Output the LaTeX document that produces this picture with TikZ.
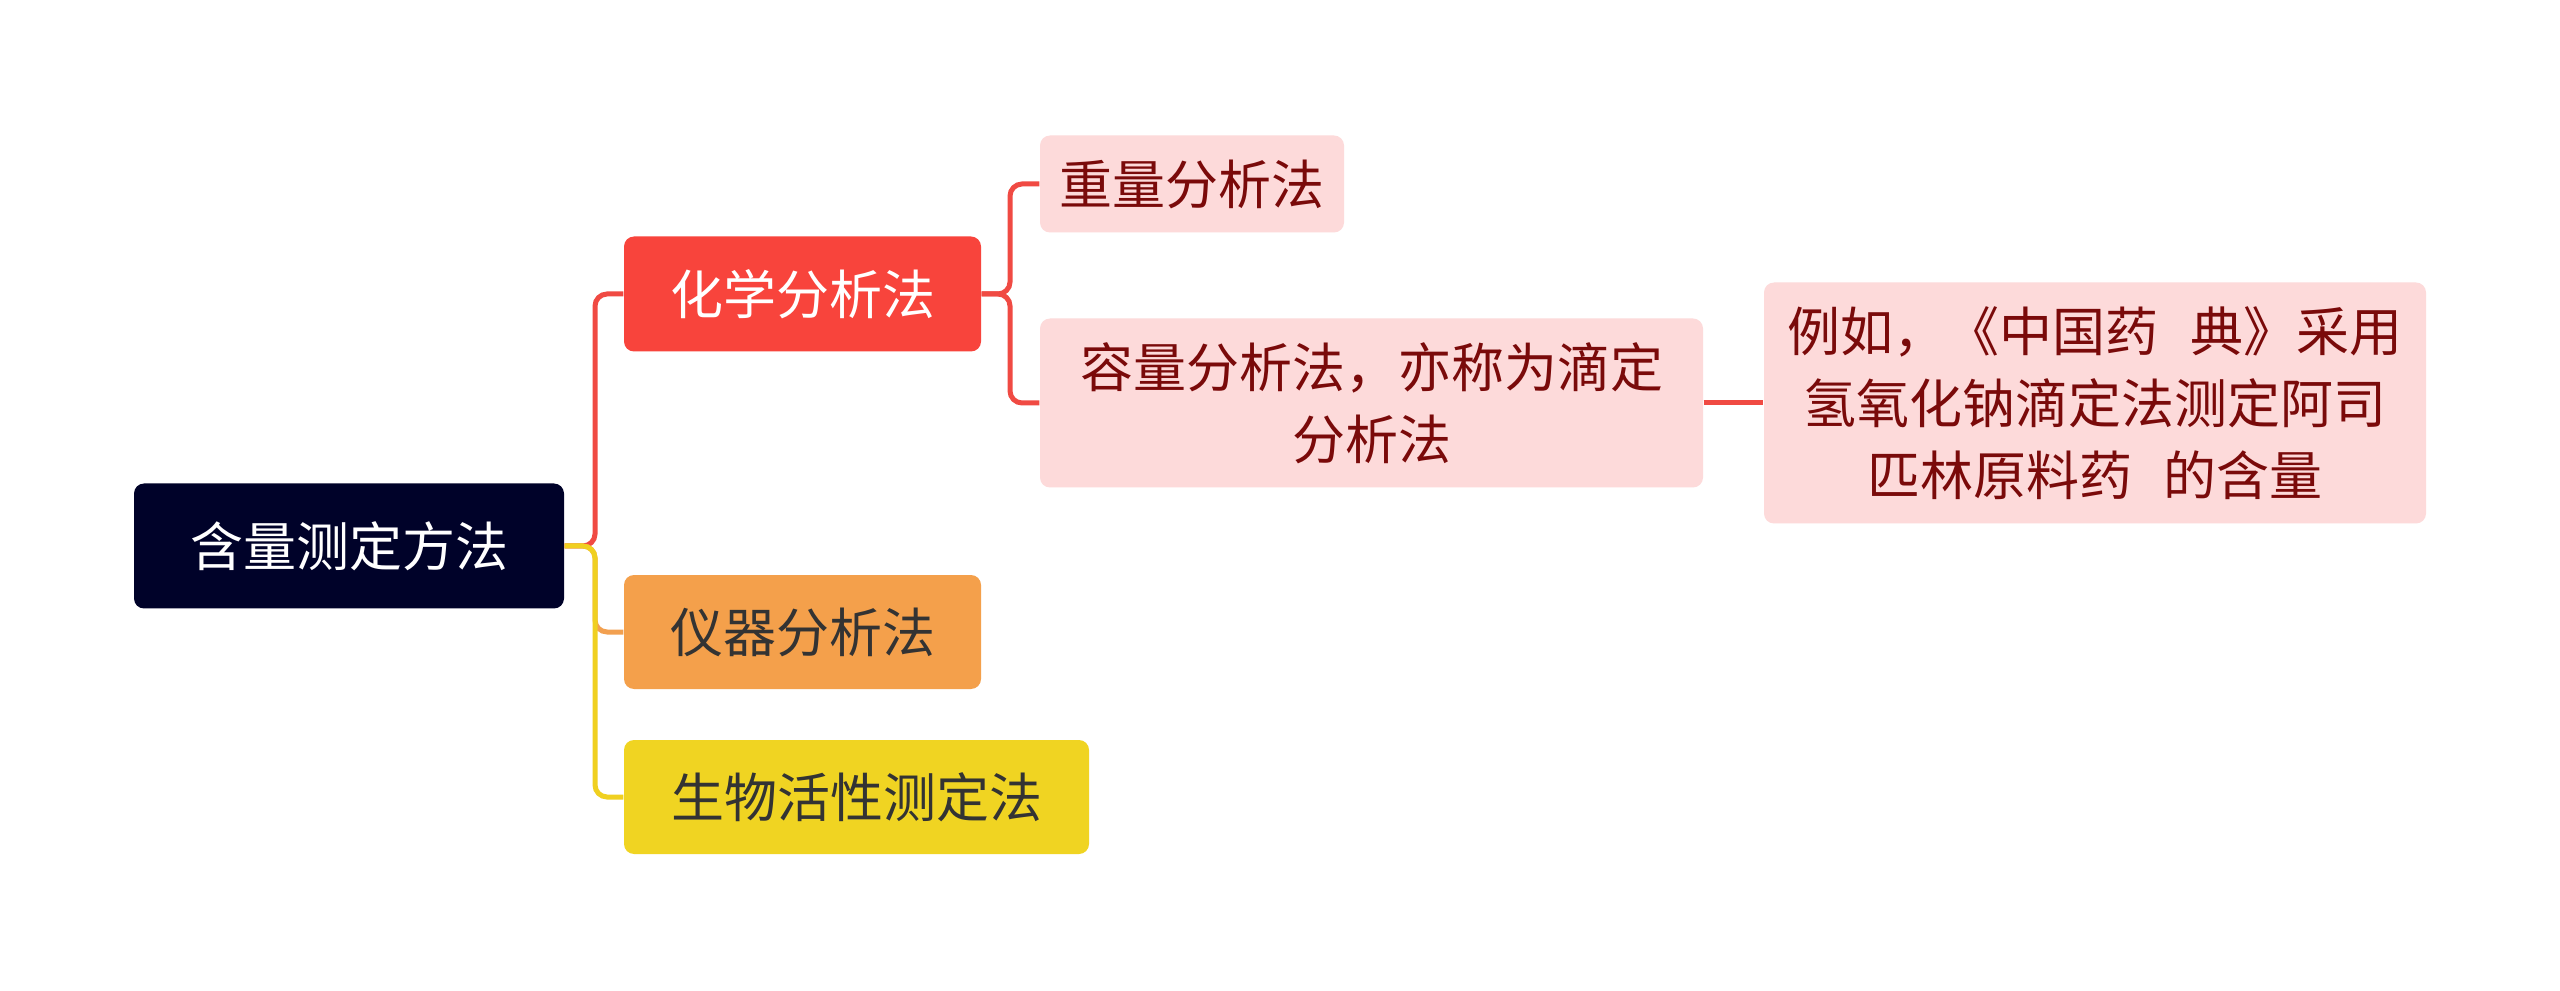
\documentclass[tikz,border=0pt]{standalone}
\usepackage{fontspec}
\newfontfamily\cjk{Noto Sans CJK SC}
\definecolor{rootc}{HTML}{000229}
\definecolor{redc}{HTML}{F8443C}
\definecolor{orangec}{HTML}{F4A04B}
\definecolor{yellowc}{HTML}{F0D422}
\definecolor{pinkc}{HTML}{FDDADA}
\definecolor{darkred}{HTML}{7A0A0A}
\definecolor{darktxt}{HTML}{333333}
\definecolor{redl}{HTML}{F04A43}
\definecolor{orangel}{HTML}{F2A050}
\definecolor{yellowl}{HTML}{F0D020}
\tikzset{
  box/.style={rounded corners=3pt, inner sep=0pt, align=center,
    font=\cjk\fontsize{15.9}{21.6}\selectfont},
  rootbox/.style={box, fill=rootc, text=white},
  redbox/.style={box, fill=redc, text=white},
  orangebox/.style={box, fill=orangec, text=darktxt},
  yellowbox/.style={box, fill=yellowc, text=darktxt},
  pinkbox/.style={box, fill=pinkc, text=darkred},
  link/.style={line width=1.5pt, rounded corners=3.6pt},
}
\begin{document}
\begin{tikzpicture}[x=0.3pt, y=-0.3pt]
\useasboundingbox (0,0) rectangle (2560,991);
\fill[white] (0,0) rectangle (2560,991);
% nodes
\node[rootbox, minimum width=129pt, minimum height=37.5pt] (root) at (349,546) {含量测定方法};
\node[redbox, minimum width=107.1pt, minimum height=34.5pt] (chem) at (802.5,294) {化学分析法};
\node[orangebox, minimum width=107.1pt, minimum height=34.2pt] (inst) at (802.5,632) {仪器分析法};
\node[yellowbox, minimum width=139.5pt, minimum height=34.2pt] (bio) at (856.5,797) {生物活性测定法};
\node[pinkbox, minimum width=91.2pt, minimum height=29.1pt] (grav) at (1192,184) {重量分析法};
\node[pinkbox, minimum width=198.9pt, minimum height=50.7pt] (vol) at (1371.5,403) {容量分析法，亦称为滴定\\分析法};
\node[pinkbox, minimum width=198.6pt, minimum height=72.3pt] (ex) at (2095,403) {例如，《中国药\hspace{0.6em}典》采用\\氢氧化钠滴定法测定阿司\\匹林原料药\hspace{0.6em}的含量};
% connectors
\coordinate (mx) at (595,546);
\coordinate (cx) at (1010,294);
\draw[link, redl] (root.east) -- (mx) |- (chem.west);
\draw[link, orangel] (root.east) -- (mx) |- (inst.west);
\draw[link, yellowl] (root.east) -- (mx) |- (bio.west);
\draw[link, redl] (chem.east) -- (cx) |- (grav.west);
\draw[link, redl] (chem.east) -- (cx) |- (vol.west);
\draw[link, redl] (vol.east) -- (ex.west);
\end{tikzpicture}
\end{document}
